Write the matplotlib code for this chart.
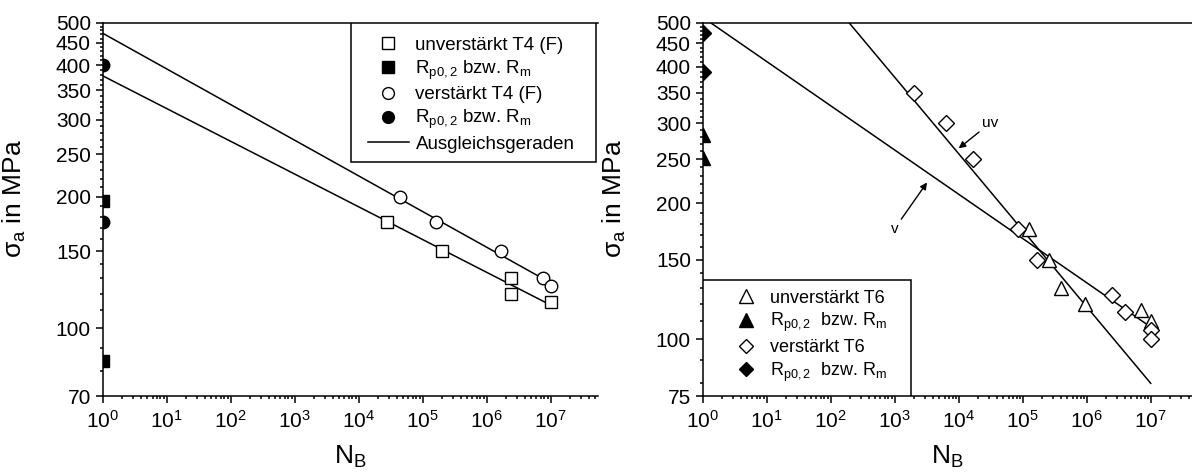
import matplotlib
matplotlib.use("Agg")
import numpy as np
import matplotlib.pyplot as plt
from matplotlib.ticker import FixedLocator, NullFormatter, LogLocator, LogFormatterSciNotation, FuncFormatter
from matplotlib.lines import Line2D
from matplotlib.patches import Rectangle

plt.rcParams['font.family'] = ['Liberation Sans', 'DejaVu Sans']
plt.rcParams['mathtext.fontset'] = 'custom'
plt.rcParams['mathtext.rm'] = 'Liberation Sans'
plt.rcParams['mathtext.it'] = 'Liberation Sans:italic'
plt.rcParams['mathtext.bf'] = 'Liberation Sans:bold'

# ---- T4 (F): unreinforced / reinforced ----
t4_uv_N = [2.75e4, 2.0e5, 2.4e6, 2.4e6, 1.0e7]
t4_uv_S = [175, 150, 130, 120, 115]
t4_uv_static = [195, 84]          # Rp0,2 / Rm at N = 1
t4_v_N = [4.5e4, 1.6e5, 1.7e6, 7.6e6, 1.0e7]
t4_v_S = [200, 175, 150, 130, 125]
t4_v_static = [400, 175]
t4_fit_N = [1, 1e7]
t4_fit_uv_S = [378, 113]
t4_fit_v_S = [473, 127]

# ---- T6: unreinforced / reinforced ----
t6_uv_N = [1.26e5, 2.6e5, 4.0e5, 9.5e5, 7.0e6, 1.0e7]
t6_uv_S = [175, 150, 130, 120, 116, 110]
t6_uv_static = [282, 252]
t6_v_N = [2.0e3, 6.3e3, 1.7e4, 8.4e4, 1.7e5, 2.5e6, 4.0e6, 1.0e7, 1.0e7]
t6_v_S = [350, 300, 250, 175, 150, 125, 115, 105, 100]
t6_v_static = [475, 390]
t6_fit_uv_N = [100, 1e7]
t6_fit_uv_S = [559, 80]
t6_fit_v_N = [1, 1e7]
t6_fit_v_S = [514, 106.5]

left_yticks = [70, 100, 150, 200, 250, 300, 350, 400, 450, 500]
right_yticks = [75, 100, 150, 200, 250, 300, 350, 400, 450, 500]

LW = 1.1
TICK_FS = 15
LABEL_FS = 19

fig = plt.figure(figsize=(11.92, 4.72), dpi=100)
fig.patch.set_facecolor('white')


def style_axes(ax, ylim, yticks, xmax):
    ax.set_xscale('log')
    ax.set_yscale('log')
    ax.set_xlim(1, xmax)
    ax.set_ylim(*ylim)
    ax.xaxis.set_major_locator(LogLocator(base=10, numticks=20))
    ax.xaxis.set_minor_locator(LogLocator(base=10, subs=np.arange(2, 10), numticks=20))
    ax.xaxis.set_major_formatter(LogFormatterSciNotation())
    ax.xaxis.set_minor_formatter(NullFormatter())
    minors = [v for v in range(ylim[0] // 10 * 10, ylim[1], 10)
              if v not in yticks and ylim[0] < v < ylim[1]]
    ax.yaxis.set_major_locator(FixedLocator(yticks))
    ax.yaxis.set_minor_locator(FixedLocator(minors))
    ax.yaxis.set_major_formatter(FuncFormatter(lambda v, p: f"{v:.0f}"))
    ax.yaxis.set_minor_formatter(NullFormatter())
    ax.tick_params(which='both', direction='out', top=False, right=False,
                   width=LW, labelsize=TICK_FS)
    ax.tick_params(which='major', length=5)
    ax.tick_params(which='minor', length=2.5)
    ax.tick_params(axis='y', pad=3.5)
    ax.tick_params(axis='x', pad=5)
    for s in ['left', 'bottom', 'top']:
        ax.spines[s].set_linewidth(LW)
    ax.spines['right'].set_visible(False)
    ax.set_xlabel(r'N$_\mathrm{B}$', fontsize=LABEL_FS)
    ax.set_ylabel(r'σ$_\mathrm{a}$ in MPa', fontsize=LABEL_FS)


# ---------------- left: T4 (F) ----------------
axL = fig.add_axes([0.08616, 0.1610, 0.4155, 0.7909])
style_axes(axL, (70, 500), left_yticks, 10 ** 7.739)
axL.xaxis.set_label_coords(0.5, -0.128)
axL.yaxis.set_label_coords(-0.15, 0.53)

axL.plot(t4_fit_N, t4_fit_uv_S, color='black', lw=LW)
axL.plot(t4_fit_N, t4_fit_v_S, color='black', lw=LW)
mk = dict(color='black', mew=1.0, linestyle='none')
axL.plot(t4_uv_N, t4_uv_S, marker='s', ms=8.5, mfc='white', **mk, zorder=3)
axL.plot([1] * len(t4_uv_static), t4_uv_static, marker='s', ms=8.5, mfc='black', **mk, zorder=3)
axL.plot(t4_v_N, t4_v_S, marker='o', ms=9, mfc='white', **mk, zorder=3)
axL.plot([1] * len(t4_v_static), t4_v_static, marker='o', ms=9, mfc='black', **mk, zorder=3)

# legend frame and entries
axL.add_patch(Rectangle((0.5013, 0.627), 0.4947, 0.373, transform=axL.transAxes,
                        facecolor='white', edgecolor='black', lw=LW, zorder=5))
rp = r'R$_\mathrm{p0,2}$ bzw. R$_\mathrm{m}$'
hL = [Line2D([], [], marker='s', ms=8, mfc='white', **mk),
      Line2D([], [], marker='s', ms=8, mfc='black', **mk),
      Line2D([], [], marker='o', ms=8.5, mfc='white', **mk),
      Line2D([], [], marker='o', ms=8.5, mfc='black', **mk),
      Line2D([], [], color='black', lw=LW)]
labL = ['unverstärkt T4 (F)', rp, 'verstärkt T4 (F)', rp, 'Ausgleichsgeraden']
legL = axL.legend(hL, labL, loc='upper left', bbox_to_anchor=(0.535, 0.963),
                  frameon=False, fontsize=13.5, handlelength=2.2, handletextpad=0.35,
                  labelspacing=0.25, borderpad=0, borderaxespad=0)
legL.set_zorder(6)

# ---------------- right: T6 ----------------
axR = fig.add_axes([0.5895, 0.1610, 0.4105, 0.7909])
style_axes(axR, (75, 500), right_yticks, 10 ** 7.645)
axR.xaxis.set_label_coords(0.5, -0.128)
axR.yaxis.set_label_coords(-0.152, 0.53)

axR.plot(t6_fit_uv_N, t6_fit_uv_S, color='black', lw=LW)
axR.plot(t6_fit_v_N, t6_fit_v_S, color='black', lw=LW)
axR.plot(t6_uv_N, t6_uv_S, marker='^', ms=10, mfc='white', **mk, zorder=3)
axR.plot([1] * len(t6_uv_static), t6_uv_static, marker='^', ms=10, mfc='black', **mk, zorder=3)
axR.plot(t6_v_N, t6_v_S, marker='D', ms=8, mfc='white', **mk, zorder=3)
axR.plot([1] * len(t6_v_static), t6_v_static, marker='D', ms=8, mfc='black', **mk, zorder=3)

axR.annotate('uv', xy=(1.0e4, 264), xytext=(2.3e4, 300), fontsize=11,
             ha='left', va='center',
             arrowprops=dict(arrowstyle='-|>', color='black', lw=1.0,
                             mutation_scale=10, shrinkA=0, shrinkB=0))
axR.annotate('v', xy=(3.2e3, 222), xytext=(1.0e3, 182), fontsize=11,
             ha='center', va='top',
             arrowprops=dict(arrowstyle='-|>', color='black', lw=1.0,
                             mutation_scale=10, shrinkA=0, shrinkB=0))

axR.add_patch(Rectangle((0.0, 0.0), 0.4257, 0.311, transform=axR.transAxes,
                        facecolor='white', edgecolor='black', lw=LW, zorder=5))
rp2 = r'R$_\mathrm{p0,2}$  bzw. R$_\mathrm{m}$'
hR = [Line2D([], [], marker='^', ms=10, mfc='white', **mk),
      Line2D([], [], marker='^', ms=10, mfc='black', **mk),
      Line2D([], [], marker='D', ms=7.5, mfc='white', **mk),
      Line2D([], [], marker='D', ms=7.5, mfc='black', **mk)]
labR = ['unverstärkt T6', rp2, 'verstärkt T6', rp2]
legR = axR.legend(hR, labR, loc='upper left', bbox_to_anchor=(0.061, 0.285),
                  frameon=False, fontsize=13, handlelength=1.5, handletextpad=0.6,
                  labelspacing=0.25, borderpad=0, borderaxespad=0)
legR.set_zorder(6)

fig.savefig('out.png', dpi=100, facecolor='white')
